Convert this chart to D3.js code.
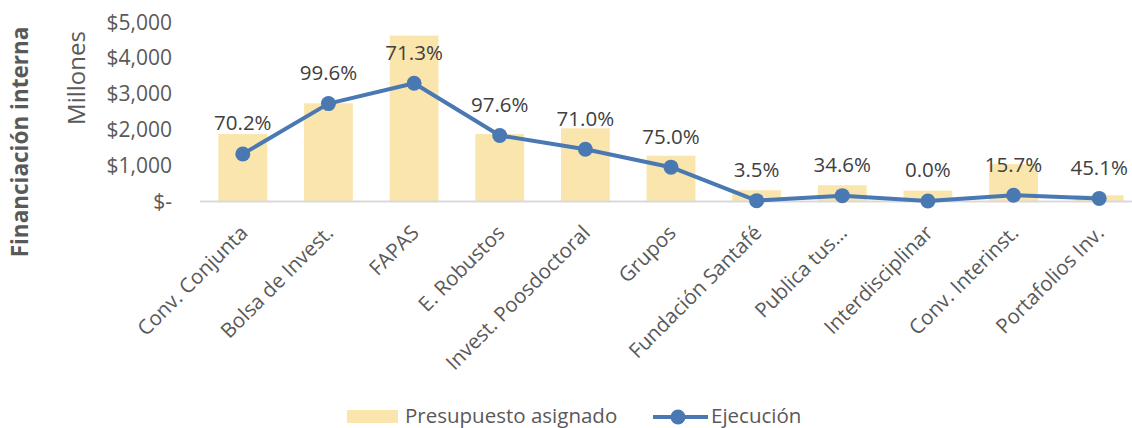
<!DOCTYPE html>
<html>
<head>
<meta charset="utf-8">
<script src="https://cdn.jsdelivr.net/npm/d3@7"></script>
<style>
  body { margin: 0; background: #fff; }
  svg text { font-family: "Open Sans", sans-serif; }
</style>
</head>
<body>
<svg id="chart" width="1132" height="428"></svg>
<script>
// Data (millions)
var categories = ["Conv. Conjunta", "Bolsa de Invest.", "FAPAS", "E. Robustos", "Invest. Poosdoctoral",
  "Grupos", "Fundación Santafé", "Publica tus...", "Interdisciplinar", "Conv. Interinst.", "Portafolios Inv."];
var presupuesto = [1870, 2730, 4620, 1870, 2030, 1265, 300, 440, 290, 1030, 160];
var ejecucion = [1313, 2720, 3290, 1830, 1445, 945, 10, 150, 0, 160, 72];
var porcentaje = ["70.2%", "99.6%", "71.3%", "97.6%", "71.0%", "75.0%", "3.5%", "34.6%", "0.0%", "15.7%", "45.1%"];
var yTicks = [0, 1000, 2000, 3000, 4000, 5000];

var svg = d3.select("#chart");
var barColor = "#FAE5AC";
var lineColor = "#4A78B3";

// Scales
var x = d3.scaleBand().domain(categories).range([200, 1142]).paddingInner(0.43).paddingOuter(0.215);
var y = d3.scaleLinear().domain([0, 5000]).range([201, 22]);

// Y axis labels
var fmt = d3.format(",");
svg.append("g").selectAll("text")
  .data(yTicks)
  .enter()
  .append("text")
  .attr("x", 172)
  .attr("y", d => y(d))
  .attr("dy", "0.36em")
  .attr("text-anchor", "end")
  .attr("fill", "#595959")
  .style("font-size", "21px")
  .text(d => d === 0 ? "$-" : "$" + fmt(d));

// Axis titles
svg.append("text")
  .attr("transform", "translate(85,78) rotate(-90)")
  .attr("text-anchor", "middle")
  .attr("fill", "#595959")
  .style("font-size", "24px")
  .text("Millones");

svg.append("text")
  .attr("transform", "translate(28,142) rotate(-90)")
  .attr("text-anchor", "middle")
  .attr("fill", "#595959")
  .style("font-size", "22.5px")
  .style("font-weight", "bold")
  .text("Financiación interna");

// Bars
svg.append("g").selectAll("rect")
  .data(presupuesto)
  .enter()
  .append("rect")
  .attr("x", (d, i) => x(categories[i]))
  .attr("width", x.bandwidth())
  .attr("y", d => y(d))
  .attr("height", d => y(0) - y(d))
  .attr("fill", barColor);

// Baseline
svg.append("line")
  .attr("x1", 200).attr("x2", 1142)
  .attr("y1", y(0) + 0.5).attr("y2", y(0) + 0.5)
  .attr("stroke", "#D9D9D9")
  .attr("stroke-width", 2);

// X labels
svg.append("g").selectAll("text")
  .data(categories)
  .enter()
  .append("text")
  .attr("transform", d => "translate(" + (x(d) + x.bandwidth() / 2 - 4) + ",224) rotate(-45)")
  .attr("text-anchor", "end")
  .attr("dy", "0.7em")
  .attr("fill", "#595959")
  .style("font-size", "20.5px")
  .text(d => d);

// Line
var cx = (d, i) => x(categories[i]) + x.bandwidth() / 2;
var line = d3.line().x(cx).y(d => y(d));
svg.append("path")
  .datum(ejecucion)
  .attr("d", line)
  .attr("fill", "none")
  .attr("stroke", lineColor)
  .attr("stroke-width", 4)
  .attr("stroke-linejoin", "round");

svg.append("g").selectAll("circle")
  .data(ejecucion)
  .enter()
  .append("circle")
  .attr("cx", cx)
  .attr("cy", d => y(d))
  .attr("r", 7.5)
  .attr("fill", lineColor);

// Data labels
svg.append("g").selectAll("text")
  .data(ejecucion)
  .enter()
  .append("text")
  .attr("x", cx)
  .attr("y", d => y(d) - 31)
  .attr("dy", "0.36em")
  .attr("text-anchor", "middle")
  .attr("fill", "#404040")
  .style("font-size", "20.5px")
  .text((d, i) => porcentaje[i]);

// Legend
var legend = svg.append("g");
legend.append("rect")
  .attr("x", 347).attr("y", 410).attr("width", 51).attr("height", 13)
  .attr("fill", barColor);
legend.append("text")
  .attr("x", 405).attr("y", 416).attr("dy", "0.36em")
  .attr("fill", "#595959").style("font-size", "20.5px")
  .text("Presupuesto asignado");
legend.append("line")
  .attr("x1", 653).attr("x2", 708).attr("y1", 417).attr("y2", 417)
  .attr("stroke", lineColor).attr("stroke-width", 4);
legend.append("circle")
  .attr("cx", 678).attr("cy", 417).attr("r", 7.5).attr("fill", lineColor);
legend.append("text")
  .attr("x", 711).attr("y", 416).attr("dy", "0.36em")
  .attr("fill", "#595959").style("font-size", "20.5px")
  .text("Ejecución");
</script>
</body>
</html>
